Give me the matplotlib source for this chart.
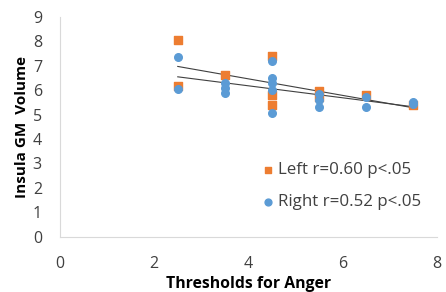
import numpy as np
import matplotlib.pyplot as plt

plt.rcParams['font.family'] = ['Open Sans', 'DejaVu Sans']

left_x = [2.5, 2.5, 3.5, 4.5, 4.5, 4.5, 5.5, 5.5, 6.5, 7.5]
left_y = [8.05, 6.15, 6.6, 7.4, 5.8, 5.4, 5.95, 5.7, 5.8, 5.4]
right_x = [2.5, 2.5, 3.5, 3.5, 3.5, 4.5, 4.5, 4.5, 4.5, 4.5, 5.5, 5.5, 5.5, 6.5, 6.5, 7.5, 7.5]
right_y = [7.35, 6.05, 6.3, 6.1, 5.9, 7.2, 6.5, 6.3, 6.0, 5.05, 5.85, 5.6, 5.3, 5.7, 5.3, 5.5, 5.45]

orange = "#ED7D31"
blue = "#5B9BD5"

fig = plt.figure(figsize=(4.46, 2.92), dpi=100)
ax = fig.add_axes([0.1345, 0.19, 0.845, 0.752])

ax.scatter(left_x, left_y, marker="s", s=26, color=orange, label="Left r=0.60 p<.05", zorder=3)
ax.scatter(right_x, right_y, marker="o", s=30, color=blue, label="Right r=0.52 p<.05", zorder=3)

# linear trend lines
xs = np.array([2.5, 7.5])
for xv, yv in [(left_x, left_y), (right_x, right_y)]:
    m, b = np.polyfit(xv, yv, 1)
    ax.plot(xs, m * xs + b, color="#404040", lw=0.8, zorder=2)

ax.set_xlim(0, 8)
ax.set_ylim(0, 9)
ax.set_xticks([0, 2, 4, 6, 8])
ax.set_yticks(range(10))
for s in ["top", "right"]:
    ax.spines[s].set_visible(False)
for s in ["left", "bottom"]:
    ax.spines[s].set_color("#d9d9d9")
ax.tick_params(length=0, labelsize=11.5, colors="#404040")
ax.tick_params(axis="x", pad=14)
ax.tick_params(axis="y", pad=13)

ax.set_xlabel("Thresholds for Anger", fontsize=11.3, fontweight="bold", labelpad=3)
ax.set_ylabel("Insula GM  Volume", fontsize=11, fontweight="bold", labelpad=3)

ax.legend(loc="lower right", bbox_to_anchor=(1.0, 0.05), frameon=False, fontsize=12.2,
          handletextpad=-0.2, handlelength=1.6, labelspacing=0.95, markerscale=0.9,
          labelcolor="#404040")

fig.savefig("out.png")
